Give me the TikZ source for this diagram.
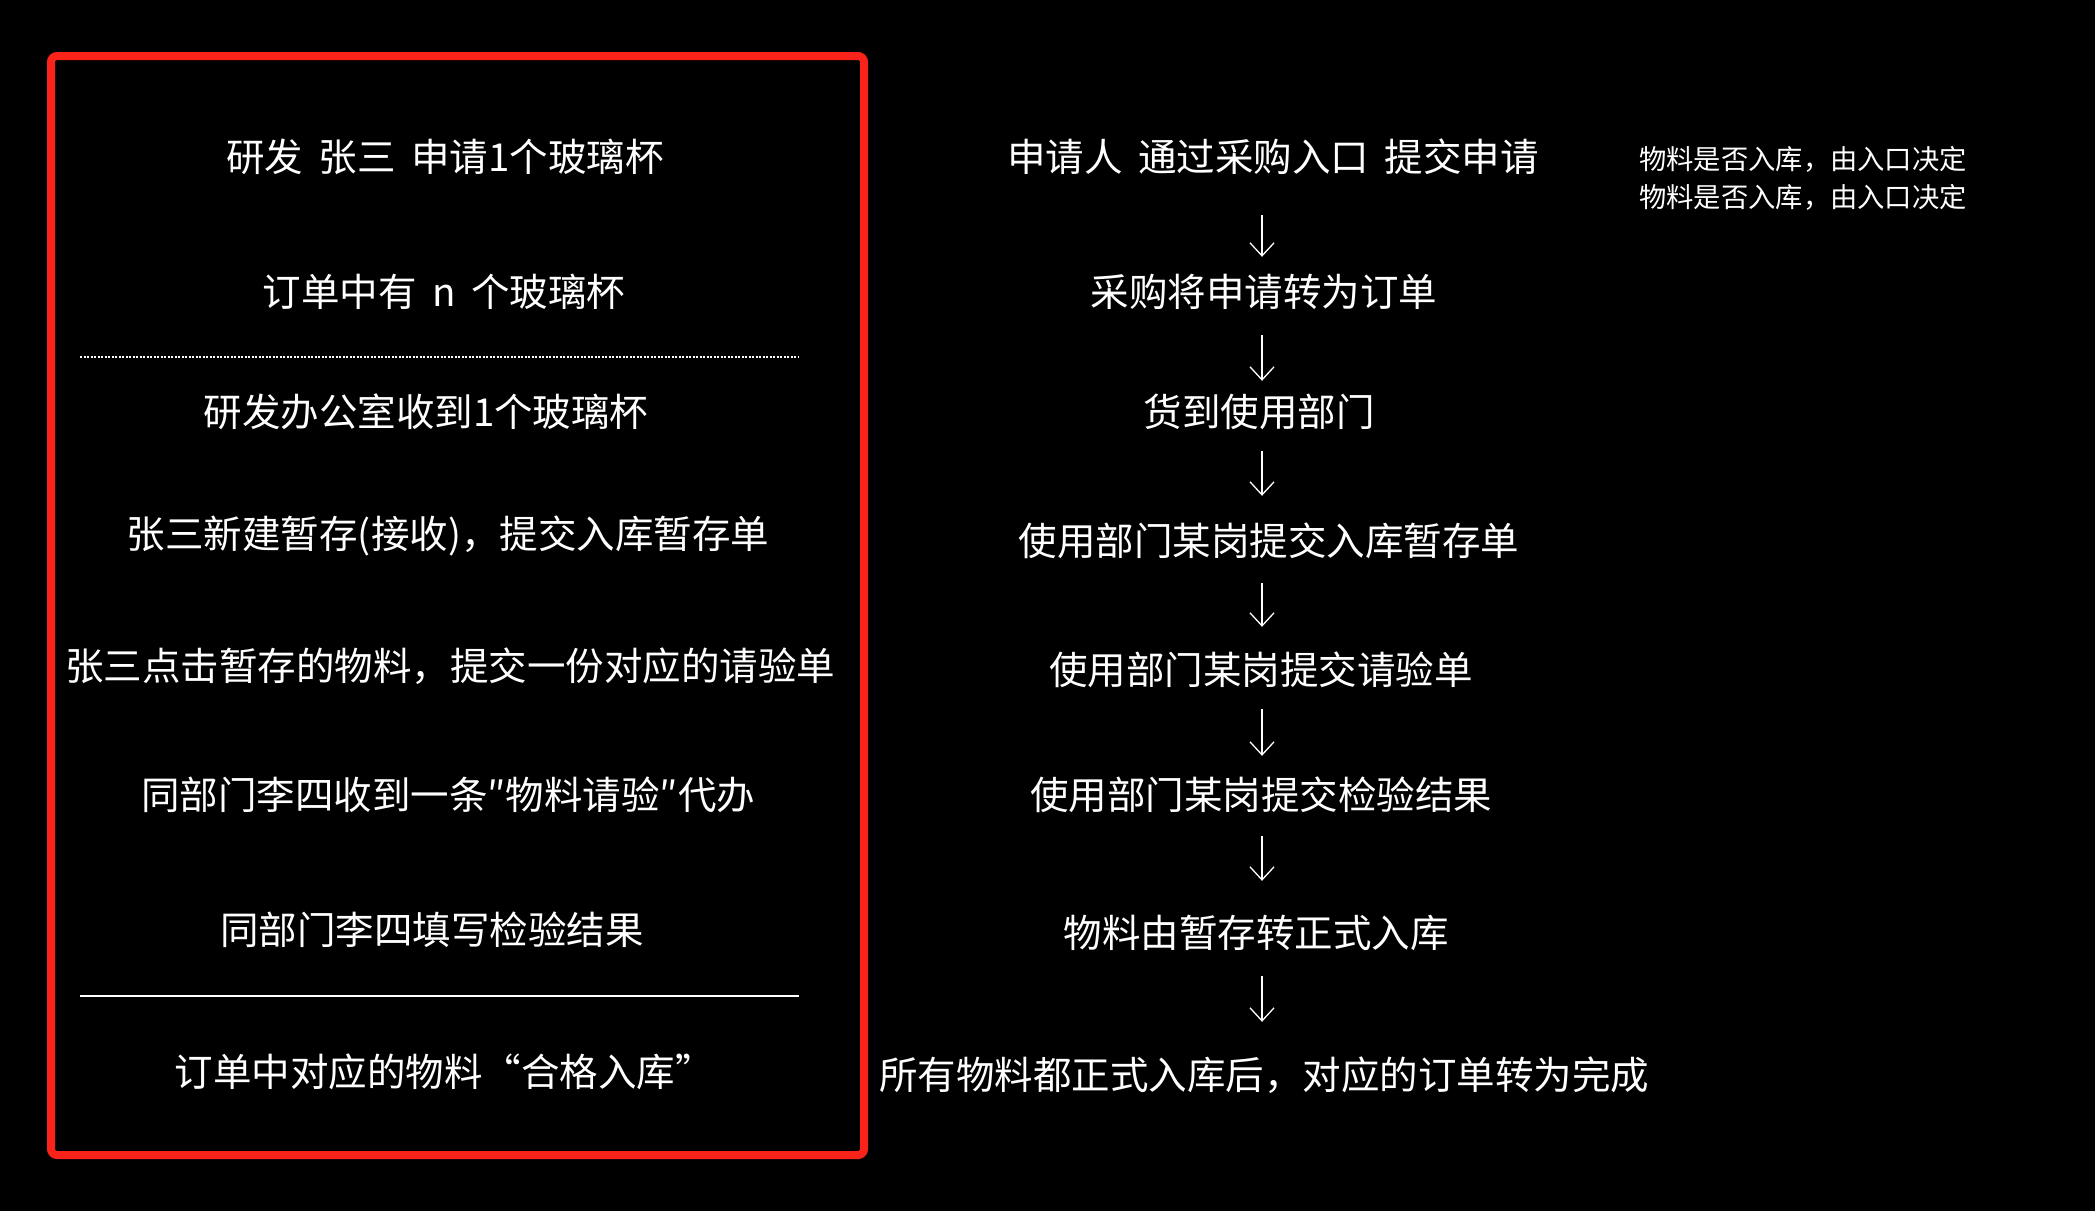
\documentclass[tikz,border=0pt]{standalone}
\usepackage{fontspec}
\setmainfont{Noto Sans CJK SC}
\usetikzlibrary{arrows.meta}
\definecolor{boxred}{RGB}{250,35,25}
\newcommand{\wsp}{\hspace{0.4em}}
\begin{document}
\begin{tikzpicture}[x=1pt,y=-1pt,
  txt/.style={text=white, font=\fontsize{38.5}{46}\selectfont, inner sep=0pt, text height=30pt, text depth=8pt, yshift=-4pt},
  note/.style={text=white, font=\fontsize{27.3}{33}\selectfont, anchor=west, inner sep=0pt},
  arr/.style={draw=white, line width=1.3pt, -{Straight Barb[length=13pt,width=24pt]}},
  frame/.style={draw=boxred, line width=8pt, rounded corners=6pt, minimum width=813pt, minimum height=1099pt, inner sep=0pt},
  divider/.style={draw=white, line width=1.8pt}
]
\fill[black] (0,0) rectangle (2095,1211);
\useasboundingbox (0,0) rectangle (2095,1211);

\node[frame] (box) at (457.5,605.5) {};

% left column
\node[txt] (l1) at (445,156) {研发\wsp 张三\wsp 申请1个玻璃杯};
\node[txt] (l2) at (444,291) {订单中有\wsp n\wsp 个玻璃杯};
\node[txt] (l3) at (426,411) {研发办公室收到1个玻璃杯};
\node[txt] (l4) at (448,533) {张三新建暂存(接收)，提交入库暂存单};
\node[txt] (l5) at (450,665) {张三点击暂存的物料，提交一份对应的请验单};
\node[txt] (l6) at (448,794) {同部门李四收到一条″物料请验″代办};
\node[txt] (l7) at (432,929) {同部门李四填写检验结果};
\node[txt] (l8) at (444,1071) {订单中对应的物料“合格入库”};

\draw[divider, dash pattern=on 2pt off 1.5pt] (80,357) -- (799,357);
\draw[divider] (80,996) -- (799,996);

% right column
\node[txt] (r1) at (1273,156) {申请人\wsp 通过采购入口\wsp 提交申请};
\node[txt] (r2) at (1264,291) {采购将申请转为订单};
\node[txt] (r3) at (1259,411) {货到使用部门};
\node[txt] (r4) at (1269,540) {使用部门某岗提交入库暂存单};
\node[txt] (r5) at (1261,669) {使用部门某岗提交请验单};
\node[txt] (r6) at (1261,794) {使用部门某岗提交检验结果};
\node[txt] (r7) at (1256,932) {物料由暂存转正式入库};
\node[txt] (r8) at (1264,1074) {所有物料都正式入库后，对应的订单转为完成};

\node[note] (n1) at (1639,159) {物料是否入库，由入口决定};
\node[note] (n2) at (1639,197) {物料是否入库，由入口决定};

\coordinate (ax) at (1262,0);
\draw[arr, shorten <=36pt, shorten >=19pt] (ax |- r1.south) -- (ax |- r2.north);
\draw[arr, shorten <=21pt, shorten >=15pt] (ax |- r2.south) -- (ax |- r3.north);
\draw[arr, shorten <=17pt, shorten >=29pt] (ax |- r3.south) -- (ax |- r4.north);
\draw[arr, shorten <=20pt, shorten >=27pt] (ax |- r4.south) -- (ax |- r5.north);
\draw[arr, shorten <=17pt, shorten >=23pt] (ax |- r5.south) -- (ax |- r6.north);
\draw[arr, shorten <=19pt, shorten >=36pt] (ax |- r6.south) -- (ax |- r7.north);
\draw[arr, shorten <=21pt, shorten >=37pt] (ax |- r7.south) -- (ax |- r8.north);
\end{tikzpicture}
\end{document}
